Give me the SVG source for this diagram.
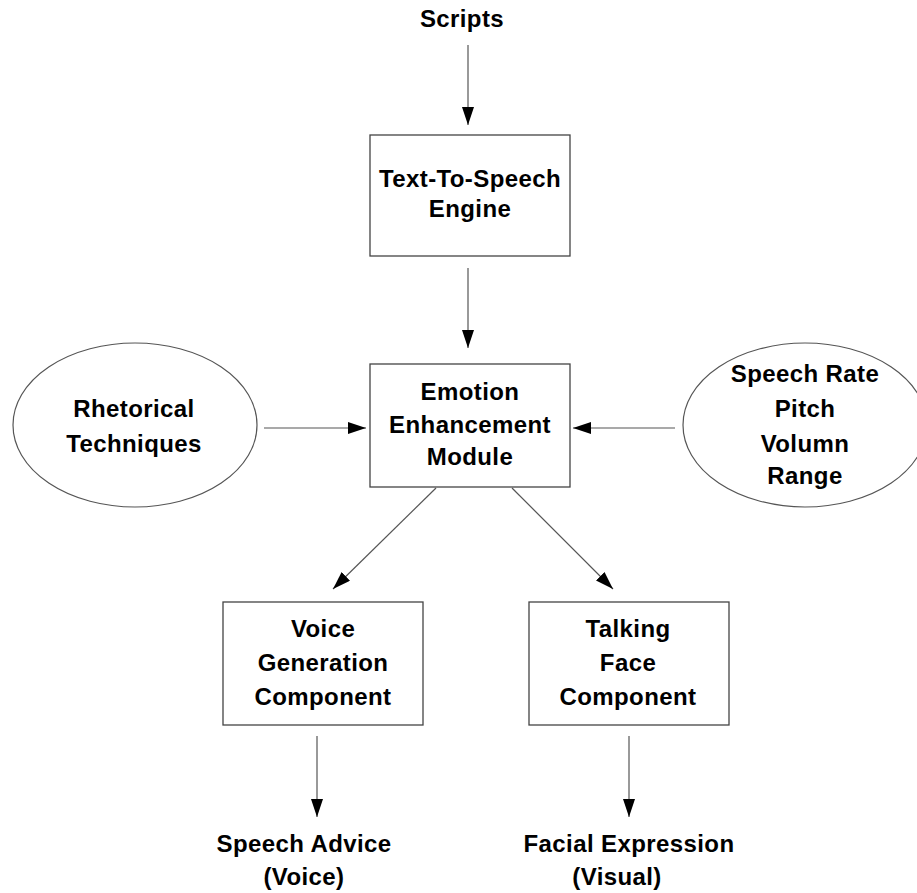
<svg xmlns="http://www.w3.org/2000/svg" width="917" height="893" viewBox="0 0 917 893">
<style>
text{font-family:"Liberation Sans",Arial,sans-serif;font-weight:bold;font-size:24px;fill:#000;text-anchor:middle;letter-spacing:0.4px}
.box{fill:#fff;stroke:#444;stroke-width:1.3}
.ell{fill:#fff;stroke:#555;stroke-width:1.2}
.conn{stroke:#555;stroke-width:1.2;fill:none;marker-end:url(#ah)}
</style>
<defs>
<marker id="ah" markerUnits="userSpaceOnUse" markerWidth="18" markerHeight="12" refX="18" refY="6" orient="auto" viewBox="0 0 18 12">
<path d="M0,0 L18,6 L0,12 Z" fill="#000"/>
</marker>
</defs>
<rect width="917" height="893" fill="#fff"/>
<g id="connectors">
<line class="conn" x1="468" y1="45" x2="468" y2="125"/>
<line class="conn" x1="468" y1="268" x2="468" y2="348"/>
<line class="conn" x1="264" y1="428" x2="366" y2="428"/>
<line class="conn" x1="675" y1="428" x2="573" y2="428"/>
<line class="conn" x1="436" y1="488" x2="333" y2="589"/>
<line class="conn" x1="512" y1="488" x2="613" y2="589"/>
<line class="conn" x1="317" y1="736" x2="317" y2="817"/>
<line class="conn" x1="629" y1="736" x2="629" y2="817"/>
</g>
<g id="scripts"><text x="462" y="27">Scripts</text></g>
<g id="tts">
<rect class="box" x="370" y="135" width="200" height="121"/>
<text x="470" y="187">Text-To-Speech</text>
<text x="470" y="217">Engine</text>
</g>
<g id="emotion">
<rect class="box" x="370" y="364" width="200" height="123"/>
<text x="470" y="400">Emotion</text>
<text x="470" y="433">Enhancement</text>
<text x="470" y="465">Module</text>
</g>
<g id="rhetorical">
<ellipse class="ell" cx="135" cy="425" rx="122" ry="82"/>
<text x="134" y="417">Rhetorical</text>
<text x="134" y="452">Techniques</text>
</g>
<g id="prosody">
<ellipse class="ell" cx="805" cy="425" rx="122" ry="82"/>
<text x="805" y="382">Speech Rate</text>
<text x="805" y="417">Pitch</text>
<text x="805" y="452">Volumn</text>
<text x="805" y="484">Range</text>
</g>
<g id="voice">
<rect class="box" x="223" y="602" width="200" height="123"/>
<text x="323" y="637">Voice</text>
<text x="323" y="671">Generation</text>
<text x="323" y="705">Component</text>
</g>
<g id="face">
<rect class="box" x="529" y="602" width="200" height="123"/>
<text x="628" y="637">Talking</text>
<text x="628" y="671">Face</text>
<text x="628" y="705">Component</text>
</g>
<g id="speech-advice">
<text x="304" y="852">Speech Advice</text>
<text x="304" y="885">(Voice)</text>
</g>
<g id="facial-expression">
<text x="629" y="852">Facial Expression</text>
<text x="617" y="885">(Visual)</text>
</g>
</svg>
